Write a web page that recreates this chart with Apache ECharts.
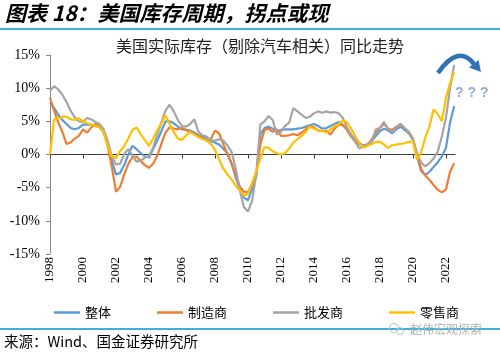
<!DOCTYPE html>
<html><head><meta charset="utf-8">
<script src="https://cdn.jsdelivr.net/npm/echarts@6/dist/echarts.min.js"></script>
<style>html,body{margin:0;padding:0;background:#fff}#c{width:500px;height:352px}</style>
</head><body><div id="c"></div>
<script>
// quarterly observations starting 1998 Q1
const startYear = 1998;
const quarterStep = 0.25;
const xTickYears = [1998,2000,2002,2004,2006,2008,2010,2012,2014,2016,2018,2020,2022];
const seriesNames = ['整体','制造商','批发商','零售商'];
const seriesColors = ['#5B9BD5','#ED7D31','#A5A5A5','#FFC000'];

const total = [
7.8, 7.0, 6.0, 5.2,
4.6, 4.0, 3.8, 4.0,
4.5, 4.5, 4.5, 4.3,
4.1, 3.4, 1.6, -1.0,
-3.0, -2.8, -1.6, 0.0,
1.3, 0.8, 0.2, -0.3,
-0.4, 0.8, 2.1, 3.5,
5.0, 5.0, 4.7, 4.2,
3.8, 3.7, 3.6, 3.3,
2.9, 2.7, 2.3, 2.0,
1.8, 1.5, 0.9, 0.2,
-1.3, -3.4, -5.2, -6.5,
-6.9, -5.2, -3.3, 3.0,
4.0, 4.2, 3.9, 3.5,
3.7, 3.8, 3.8, 3.8,
3.9, 4.0, 4.2, 4.4,
4.6, 4.3, 3.9, 4.0,
4.3, 4.6, 4.9, 4.4,
3.9, 3.0, 2.2, 1.5,
1.4, 1.5, 2.0, 2.8,
3.5, 3.9, 3.6, 3.2,
3.8, 4.2, 3.7, 3.2,
2.2, -0.3, -2.5, -3.1,
-2.6, -1.9, -1.2, -0.3,
1.0, 4.8, 7.3
];
const manufacturing = [
8.6, 6.6, 4.8, 3.4,
1.6, 1.8, 2.4, 2.8,
3.8, 3.3, 4.1, 4.6,
4.4, 3.4, 1.2, -1.9,
-5.6, -4.9, -3.0, -1.4,
-0.4, -0.3, -1.0, -1.6,
-2.0, -1.4, -0.2, 1.6,
3.3, 4.1, 3.9, 3.8,
4.0, 3.7, 3.4, 3.1,
2.8, 2.4, 2.1, 2.3,
3.6, 3.2, 1.6, 0.1,
-1.3, -3.0, -4.8, -5.6,
-5.7, -4.4, -3.0, 1.5,
3.7, 3.9, 3.4, 3.8,
2.8, 2.8, 2.9, 3.1,
2.9, 3.3, 3.8, 4.3,
4.1, 3.6, 3.5, 3.6,
3.0, 3.9, 4.5, 4.5,
3.7, 2.7, 1.9, 1.8,
1.2, 1.4, 2.3, 3.3,
4.0, 4.6, 3.9, 3.7,
4.2, 4.6, 4.0, 3.4,
2.4, 0.0, -2.2, -3.2,
-3.8, -4.6, -5.3, -5.7,
-5.3, -2.6, -1.3
];
const wholesale = [
9.6, 10.3, 9.8, 9.0,
7.9, 6.6, 5.6, 5.0,
4.9, 5.5, 5.3, 4.9,
4.6, 3.8, 2.0, -0.3,
-1.5, -1.4, 0.1, 0.8,
-0.2, -1.1, -0.9, -0.5,
-0.2, 1.0, 3.0, 4.8,
6.6, 7.5, 6.5, 5.2,
4.3, 4.2, 4.6, 5.3,
3.4, 2.9, 2.7, 2.1,
2.1, 2.3, 2.1, 1.4,
0.4, -2.0, -5.3, -7.9,
-8.6, -7.0, -3.0, 4.5,
5.0, 5.8, 5.2, 3.0,
3.4, 4.3, 4.8, 7.0,
6.5, 6.0, 5.5, 5.7,
6.2, 6.5, 6.3, 6.5,
6.3, 6.4, 6.2, 5.5,
4.1, 3.0, 1.9, 0.9,
1.3, 1.6, 2.0, 3.8,
4.0, 4.9, 3.8, 3.4,
4.1, 4.6, 4.0, 3.4,
2.4, 0.0, -1.2, -1.8,
-1.3, -0.6, 0.4, 2.7,
5.5, 10.0, 13.5
];
const retail = [
0.0, 5.3, 5.4, 5.7,
5.7, 5.3, 5.2, 5.5,
5.0, 4.7, 4.5, 4.3,
4.1, 3.4, 1.2, -0.3,
-0.5, 0.5, 1.3, 2.4,
3.7, 4.1, 3.0, 2.2,
1.3, 2.4, 3.6, 4.7,
5.9, 4.6, 3.4, 2.4,
2.2, 2.9, 3.4, 3.0,
2.6, 2.3, 2.1, 1.6,
0.7, -0.7, -2.1, -3.0,
-3.7, -4.7, -5.4, -6.2,
-5.9, -4.3, -2.6, -0.6,
1.1, 1.0, 0.5, 0.2,
0.0, 0.2, 0.9, 1.8,
2.3, 2.8, 3.4, 4.2,
3.9, 3.6, 3.6, 3.3,
3.8, 4.2, 4.6, 5.1,
4.9, 3.9, 2.8, 1.7,
1.0, 1.3, 1.6, 1.9,
1.9, 1.5, 1.0, 1.4,
1.5, 1.6, 1.7, 1.9,
2.0, -0.8, 0.3, 2.6,
4.2, 6.8, 6.1, 5.0,
8.5, 10.8, 12.4
];

const allSeries = [total, manufacturing, wholesale, retail];
const toPairs = arr => arr.map((v, i) => [startYear + i * quarterStep, v]);

const chart = echarts.init(document.getElementById('c'), null, {renderer: 'canvas'});
const cjk = "'Noto Sans CJK SC', sans-serif";
const serif = "'Liberation Serif', 'DejaVu Serif', serif";
const xMin = 1998, xMax = 2022.55;

chart.setOption({
  animation: false,
  backgroundColor: '#fff',
  grid: {left: 50, right: 45, top: 55, bottom: 98, containLabel: false, outerBoundsMode: 'none'},
  legend: {
    left: 49, top: 301, itemWidth: 26, itemHeight: 2.5, itemGap: 46, icon: 'rect',
    textStyle: {fontSize: 13, fontFamily: cjk, color: '#000'},
    data: seriesNames
  },
  xAxis: [{
    // labels at the bottom of the plot
    type: 'value', min: xMin, max: xMax, position: 'bottom',
    axisLine: {show: false, onZero: false},
    axisTick: {show: false},
    axisLabel: {customValues: xTickYears, rotate: 90, margin: 3, fontFamily: serif, fontSize: 13, color: '#000', formatter: v => String(v)},
    splitLine: {show: false}
  }, {
    // zero line with ticks
    type: 'value', min: xMin, max: xMax, position: 'bottom',
    axisLine: {show: true, onZero: true, lineStyle: {color: '#404040', width: 1}},
    axisTick: {show: true, inside: false, length: 4, customValues: xTickYears, lineStyle: {color: '#404040'}},
    axisLabel: {show: false},
    splitLine: {show: false}
  }],
  yAxis: {
    type: 'value', min: -15, max: 15, interval: 5,
    axisLine: {show: true, onZero: false, lineStyle: {color: '#868686'}},
    axisTick: {show: true, length: 4, lineStyle: {color: '#868686'}},
    axisLabel: {formatter: '{value}%', fontFamily: serif, fontSize: 14, color: '#000', margin: 10},
    splitLine: {show: false}
  },
  series: allSeries.map((arr, k) => ({
    name: seriesNames[k], type: 'line', symbol: 'none', xAxisIndex: 0,
    data: toPairs(arr),
    lineStyle: {width: 2.2, color: seriesColors[k]},
    itemStyle: {color: seriesColors[k]},
    z: 2 + k
  })),
  graphic: [
    {type: 'text', x: 5, y: 13, style: {text: '图表 18：美国库存周期，拐点或现', fontSize: 21, fontWeight: 'bold', fontStyle: 'italic', fontFamily: cjk, fill: '#000', align: 'left', verticalAlign: 'middle'}},
    {type: 'line', shape: {x1: 0, y1: 29, x2: 500, y2: 29}, style: {stroke: '#3CB0E2', lineWidth: 2}},
    {type: 'text', x: 260, y: 46, style: {text: '美国实际库存（剔除汽车相关）同比走势', fontSize: 16, fontFamily: cjk, fill: '#222', align: 'center', verticalAlign: 'middle'}},
    {type: 'bezierCurve', shape: {x1: 438, y1: 73, cpx1: 458, cpy1: 44, x2: 474, y2: 64}, style: {stroke: '#2F72B8', lineWidth: 4.5, fill: null}, z: 20},
    {type: 'polygon', shape: {points: [[469, 67.5], [478.5, 60], [481, 72]]}, style: {fill: '#2F72B8'}, z: 20},
    {type: 'text', x: 455, y: 93, style: {text: '? ? ?', fontSize: 14, fontWeight: 'bold', fontFamily: "'Liberation Sans', sans-serif", fill: '#8FAADC', align: 'left', verticalAlign: 'middle'}, z: 20},
    {type: 'line', shape: {x1: 0, y1: 329, x2: 500, y2: 329}, style: {stroke: '#3CB0E2', lineWidth: 2}},
    {type: 'text', x: 4, y: 341, style: {text: '来源：Wind、国金证券研究所', fontSize: 14.5, fontFamily: cjk, fill: '#000', align: 'left', verticalAlign: 'middle'}},
    {type: 'circle', shape: {cx: 394, cy: 328, r: 4.5}, style: {stroke: '#c0c0c0', fill: null, lineWidth: 1}},
    {type: 'circle', shape: {cx: 400, cy: 331, r: 3.5}, style: {stroke: '#c0c0c0', fill: null, lineWidth: 1}},
    {type: 'text', x: 410, y: 329, style: {text: '赵伟宏观探索', fontSize: 12, fontFamily: cjk, fill: '#b0b0b0', align: 'left', verticalAlign: 'middle'}}
  ]
});
</script></body></html>
